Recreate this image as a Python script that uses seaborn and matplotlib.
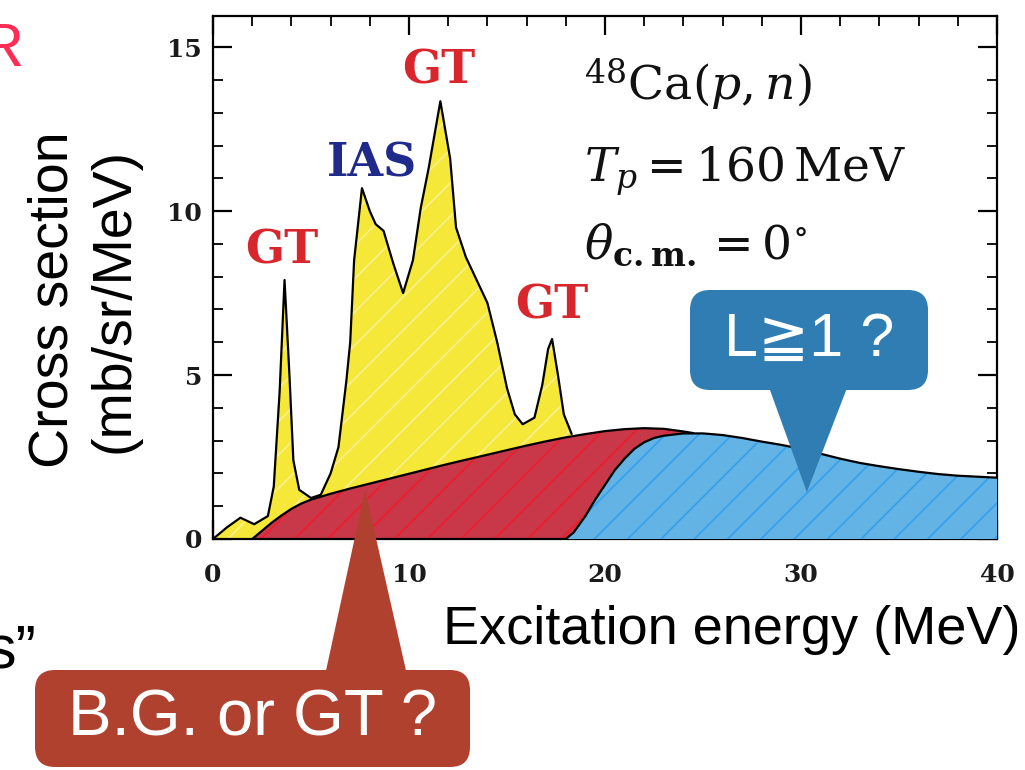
import numpy as np
import matplotlib
matplotlib.use("Agg")
import matplotlib.pyplot as plt
import seaborn as sns
from matplotlib.patches import FancyBboxPatch
from matplotlib.ticker import MultipleLocator

# ---------------- data ----------------
total_E = [0.0, 0.7, 1.4, 2.1, 2.8, 3.1, 3.4, 3.65, 3.9, 4.1, 4.4, 5.0, 5.5,
           6.0, 6.4, 6.8, 7.0, 7.2, 7.6, 8.0, 8.3, 8.7, 9.2, 9.7, 10.2, 10.6,
           11.0, 11.6, 12.1, 12.4, 12.9, 14.0, 14.5, 15.0, 15.4, 15.8, 16.4,
           16.8, 17.1, 17.3, 17.6, 17.9, 18.3]
total_xs = [0.0, 0.35, 0.65, 0.45, 0.7, 1.6, 4.5, 7.9, 5.0, 2.4, 1.5, 1.25, 1.35,
            2.0, 2.8, 4.8, 6.0, 8.5, 10.7, 10.0, 9.6, 9.4, 8.4, 7.5, 8.5, 10.1,
            11.3, 13.35, 11.6, 9.5, 8.6, 7.2, 6.0, 4.6, 3.8, 3.5, 3.7,
            4.7, 5.8, 6.1, 5.0, 3.8, 3.2]

bg_E = [2.0, 2.5, 3.0, 3.5, 4.0, 4.5, 5.0, 6.0, 7.0, 8.0, 9.0, 10.0, 11.0,
        12.0, 13.0, 14.0, 15.0, 16.0, 17.0, 18.0, 19.0, 20.0, 21.0, 22.0,
        23.0, 24.0, 24.5]
bg_xs = [0.0, 0.25, 0.5, 0.72, 0.92, 1.08, 1.2, 1.38, 1.54, 1.69, 1.84, 1.99,
         2.14, 2.29, 2.43, 2.57, 2.71, 2.85, 2.98, 3.1, 3.2, 3.29, 3.35, 3.38,
         3.36, 3.28, 3.23]

l1_E = [18.0, 18.4, 19.0, 19.5, 20.0, 20.5, 21.0, 21.5, 22.0, 22.5, 23.0, 24.0,
        25.0, 26.0, 27.0, 28.0, 29.0, 30.0, 31.0, 32.0, 33.0, 34.0, 35.0, 36.0,
        37.0, 38.0, 39.0, 40.0]
l1_xs = [0.0, 0.2, 0.7, 1.2, 1.65, 2.1, 2.45, 2.75, 2.95, 3.08, 3.15, 3.22,
         3.22, 3.17, 3.08, 2.97, 2.87, 2.75, 2.6, 2.45, 2.32, 2.22, 2.13, 2.05,
         1.98, 1.93, 1.9, 1.87]

peak_labels = ["GT", "IAS", "GT", "GT"]
peak_E = [3.52, 8.1, 11.5, 17.3]
peak_y = [8.8, 11.46, 14.3, 7.13]
peak_colors = ["#d8262c", "#1f2a8a", "#d8262c", "#d8262c"]

info_lines = [r"$^{48}\mathrm{Ca}(p,n)$",
              r"$T_p = 160\,\mathrm{MeV}$",
              r"$\theta_{\mathbf{c.m.}} = 0^{\circ}$"]
info_y = [13.85, 11.2, 8.95]

xticks = [0, 10, 20, 30, 40]
yticks = [0, 5, 10, 15]

# ---------------- style ----------------
sns.set_theme(style="ticks")
plt.rcParams.update({
    "mathtext.fontset": "custom",
    "mathtext.rm": "DejaVu Serif",
    "mathtext.it": "DejaVu Serif:italic",
    "mathtext.bf": "DejaVu Serif:bold",
    "hatch.linewidth": 1.3,
    "axes.linewidth": 1.6,
})
plt.rcParams["font.family"] = ["Liberation Sans", "DejaVu Sans"]

fig = plt.figure(figsize=(10.25, 7.7), dpi=100)
ax = fig.add_axes([213 / 1025, 1 - 539 / 770, 784 / 1025, 523 / 770])

YELLOW, YELLOW_H = "#f6e838", "#faf08a"
RED, RED_H = "#c93848", "#ec1e2e"
BLUE, BLUE_H = "#63b3e4", "#36a2ee"

ax.fill_between(total_E, 0, total_xs, facecolor=YELLOW, edgecolor=YELLOW_H,
                hatch="/", linewidth=0, zorder=1)
ax.fill_between(bg_E, 0, bg_xs, facecolor=RED, edgecolor=RED_H,
                hatch="/", linewidth=0, zorder=2)
ax.fill_between(l1_E, 0, l1_xs, facecolor=BLUE, edgecolor=BLUE_H,
                hatch="/", linewidth=0, zorder=3)

for xe, ys in [(total_E, total_xs), (bg_E, bg_xs), (l1_E, l1_xs)]:
    sns.lineplot(x=xe, y=ys, ax=ax, color="black", linewidth=1.6,
                 estimator=None, sort=False, zorder=4)

ax.set_xlim(0, 40)
ax.set_ylim(0, 15.95)
ax.set_xticks(xticks)
ax.set_yticks(yticks)
ax.xaxis.set_minor_locator(MultipleLocator(2))
ax.yaxis.set_minor_locator(MultipleLocator(1))
ax.tick_params(which="both", direction="in", top=True, right=True,
               color="black")
ax.tick_params(which="major", length=14, width=1.6)
ax.tick_params(which="minor", length=7, width=1.3)
ax.tick_params(axis="x", which="major", pad=17)
ax.tick_params(axis="y", which="major", pad=8)
for lab in ax.get_xticklabels() + ax.get_yticklabels():
    lab.set_fontfamily("DejaVu Serif")
    lab.set_fontweight("bold")
    lab.set_fontsize(18)
    lab.set_color("#1a1a1a")
for sp in ax.spines.values():
    sp.set_color("black")
    sp.set_linewidth(1.6)

# peak labels
for t, e, y, c in zip(peak_labels, peak_E, peak_y, peak_colors):
    ax.text(e, y, t, color=c, fontsize=33, fontfamily="DejaVu Serif",
            fontweight="bold", ha="center", va="center", zorder=6)

# reaction info
for s, y in zip(info_lines, info_y):
    ax.text(18.95, y, s, fontsize=34, color="#111111", ha="left", va="center",
            zorder=6)

# axis labels
ax.set_xlabel("Excitation energy (MeV)", fontsize=39, color="black",
              fontfamily=["Liberation Sans", "DejaVu Sans"], ha="left",
              va="center")
ax.xaxis.set_label_coords((443 - 213) / 784, (539 - 630) / 523)
ax.set_ylabel("Cross section\n(mb/sr/MeV)", fontsize=40, color="black",
              fontfamily=["Liberation Sans", "DejaVu Sans"], ha="center",
              va="center", linespacing=1.2)
ax.yaxis.set_label_coords((84 - 213) / 784, (539 - 300) / 523)

# slide fragments outside the chart (cut by the frame, as in the original)
fig.text(24 / 1025, 1 - 50 / 770, "R", color="#ff2d55", fontsize=44,
         ha="right", va="center")
fig.text(36 / 1025, 1 - 668 / 770, "s\u201d", color="black", fontsize=44,
         ha="right", va="baseline")

# callouts
BOX_BLUE = "#2f7db3"
BOX_RED = "#b0412f"

def callout(x0, y0, w, h, color, label, size, tip, base_px, base_w):
    tw = base_w / (10 * 100 / 72)
    ax.annotate("", xy=tip, xycoords="data", xytext=base_px,
                textcoords="figure pixels",
                arrowprops=dict(arrowstyle=f"wedge,tail_width={tw:.2f},shrink_factor=0.5",
                                mutation_scale=10, fc=color, ec="none",
                                shrinkA=0, shrinkB=0), zorder=8)
    box = FancyBboxPatch((x0, y0), w, h,
                         boxstyle="round,pad=0,rounding_size=0.2",
                         transform=fig.dpi_scale_trans, facecolor=color,
                         edgecolor="none", zorder=9)
    fig.patches.append(box)
    fig.text((x0 + w / 2) / 10.25, (y0 + h / 2) / 7.7, label, color="white",
             fontsize=size, ha="center", va="center",
             fontfamily=["Liberation Sans", "DejaVu Sans"], zorder=10)

callout(6.90, 3.80, 2.38, 1.00, BOX_BLUE, "L\u22671 ?", 44, (30.3, 1.43),
        (808, 770 - 385), 80)
callout(0.35, 0.03, 4.35, 0.97, BOX_RED, "B.G. or GT ?", 47, (7.76, 1.49),
        (366, 770 - 675), 82)

fig.savefig("out.png", dpi=100)
